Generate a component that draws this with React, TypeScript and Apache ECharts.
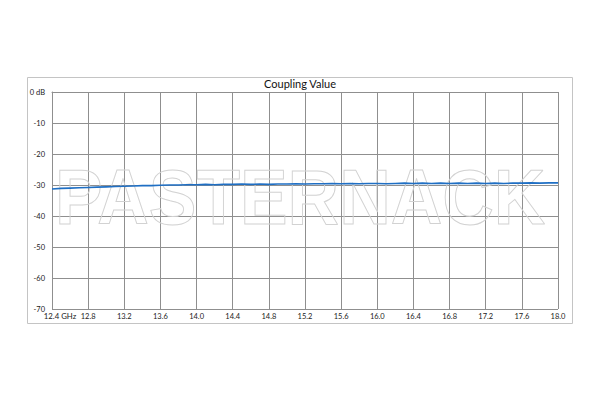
import React, { useEffect, useRef } from "react";
import * as echarts from "echarts";

const frequencies: number[] = [
  12.4, 12.5, 12.6, 12.7, 12.8, 12.9, 13.0, 13.1, 13.2, 13.3, 13.4, 13.5, 13.6, 13.7, 13.8, 13.9,
  14.0, 14.1, 14.2, 14.3, 14.4, 14.5, 14.6, 14.7, 14.8, 14.9, 15.0, 15.1, 15.2, 15.3, 15.4, 15.5,
  15.6, 15.7, 15.8, 15.9, 16.0, 16.1, 16.2, 16.3, 16.4, 16.5, 16.6, 16.7, 16.8, 16.9, 17.0, 17.1,
  17.2, 17.3, 17.4, 17.5, 17.6, 17.7, 17.8, 17.9, 18.0,
];

const couplingDb: number[] = [
  -31.3, -31.1, -31.0, -30.9, -30.8, -30.7, -30.6, -30.5, -30.4, -30.3, -30.2, -30.2, -30.1, -30.0, -30.0, -29.9,
  -29.9, -29.8, -29.9, -29.8, -29.8, -29.7, -29.8, -29.7, -29.8, -29.7, -29.7, -29.6, -29.7, -29.6, -29.6, -29.5,
  -29.6, -29.5, -29.6, -29.5, -29.5, -29.6, -29.5, -29.4, -29.5, -29.4, -29.5, -29.4, -29.5, -29.4, -29.5, -29.4,
  -29.5, -29.4, -29.5, -29.4, -29.4, -29.3, -29.4, -29.3, -29.3,
];

const chartTitle = "Coupling Value";
const watermark = "PASTERNACK";

export default function App() {
  const ref = useRef<HTMLDivElement>(null);

  useEffect(() => {
    if (!ref.current) return;
    const chart = echarts.init(ref.current, undefined, { renderer: "svg" });
    const font = "Lato, 'Open Sans', sans-serif";
    const gridColor = "#8f8f8f";
    chart.setOption({
      animation: false,
      backgroundColor: "#ffffff",
      title: {
        text: chartTitle,
        left: "center",
        top: 78,
        padding: 0,
        textStyle: { fontFamily: font, fontSize: 11, fontWeight: "normal", color: "#111" },
      },
      graphic: [
        {
          type: "rect",
          z: 0,
          shape: { x: 27.5, y: 77.5, width: 545, height: 246 },
          style: { fill: "none", stroke: "#c4c4c4", lineWidth: 1 },
        },
        {
          type: "text",
          z: 1,
          x: 55,
          y: 158,
          scaleX: 0.915,
          style: {
            text: watermark,
            font: "bold 78px 'Liberation Sans', Arial, sans-serif",
            fill: "rgba(255,255,255,0)",
            stroke: "#d2d2d2",
            lineWidth: 1,
            textVerticalAlign: "top",
          },
        },
      ],
      grid: { left: 52, top: 92, right: 42, bottom: 91, containLabel: false },
      xAxis: {
        type: "value",
        min: 12.4,
        max: 18.0,
        interval: 0.4,
        axisLine: { show: true, lineStyle: { color: gridColor, width: 1 } },
        axisTick: { show: false },
        splitLine: { show: true, lineStyle: { color: gridColor, width: 1 } },
        axisLabel: {
          fontFamily: font,
          fontSize: 7.5,
          color: "#222",
          margin: 3,
          showMinLabel: true,
          showMaxLabel: true,
          hideOverlap: false,
          formatter: (v: number) =>
            Math.abs(v - 12.4) < 1e-6 ? "{first|12.4 GHz}" : v.toFixed(1),
          rich: {
            first: { fontFamily: font, fontSize: 7.8, color: "#222", padding: [0, 0, 0, 16] },
          },
        },
      },
      yAxis: {
        type: "value",
        min: -70,
        max: 0,
        interval: 10,
        axisLine: { show: true, lineStyle: { color: gridColor, width: 1 } },
        axisTick: { show: false },
        splitLine: { show: true, lineStyle: { color: gridColor, width: 1 } },
        axisLabel: {
          fontFamily: font,
          fontSize: 7.5,
          color: "#222",
          margin: 7,
          formatter: (v: number) => (v === 0 ? "0 dB" : String(v)),
        },
      },
      series: [
        {
          type: "line",
          z: 3,
          showSymbol: false,
          data: frequencies.map((f, i) => [f, couplingDb[i]]),
          lineStyle: { color: "#1f6fc4", width: 1.6 },
          itemStyle: { color: "#1f6fc4" },
        },
      ],
    });
    return () => chart.dispose();
  }, []);

  return (
    <div
      ref={ref}
      style={{ position: "fixed", left: 0, top: 0, width: 600, height: 400, background: "#fff" }}
    />
  );
}
